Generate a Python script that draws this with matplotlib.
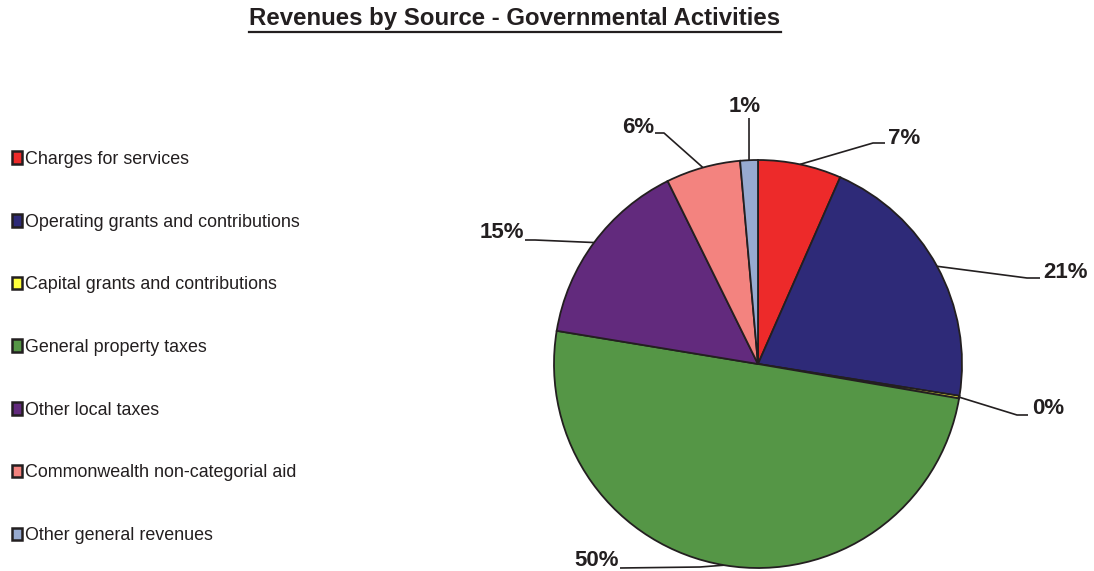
import matplotlib.pyplot as plt
from matplotlib.lines import Line2D
import numpy as np

plt.rcParams['font.family'] = ['Liberation Sans', 'DejaVu Sans']

sources = ['Charges for services',
           'Operating grants and contributions',
           'Capital grants and contributions',
           'General property taxes',
           'Other local taxes',
           'Commonwealth non-categorial aid',
           'Other general revenues']
shares = [6.6, 20.9, 0.2, 49.9, 15.1, 5.9, 1.4]
colors = ['#ED2A2A', '#2E2A78', '#FFFF3C', '#559646', '#622A7D', '#F3837F', '#97AAD0']

W, H = 1094, 571
cx, cy, r = 758, 364, 204   # pie centre and radius in pixels

fig = plt.figure(figsize=(W / 100, H / 100), dpi=100)
ax = fig.add_axes([0, 0, 1, 1])


def px(x, y):
    # pixel position -> data units of the pie axes
    return ((x - cx) / r, (cy - y) / r)


wedges, _ = ax.pie(shares, colors=colors, startangle=90, counterclock=False,
                   radius=1, wedgeprops=dict(edgecolor='#231f20', linewidth=1.3))
ax.set_xlim(-cx / r, (W - cx) / r)
ax.set_ylim(-(H - cy) / r, cy / r)
ax.axis('off')

# leader lines: elbow, end of line, text anchor, alignment
leaders = [((873, 143), (885, 143), (888, 138), 'left'),
           ((1027, 278), (1040, 278), (1043, 272), 'left'),
           ((1017, 415), (1028, 415), (1032, 408), 'left'),
           ((700, 567), (620, 568), (619, 561), 'right'),
           ((535, 240), (525, 240), (524, 233), 'right'),
           ((664, 133), (655, 133), (654, 127), 'right'),
           ((749, 118), (749, 118), (745, 106), 'center')]

for w, s, (elbow, end, tpos, ha) in zip(wedges, shares, leaders):
    mid = np.deg2rad((w.theta1 + w.theta2) / 2)
    ex, ey = np.cos(mid), np.sin(mid)
    bx, by = px(*elbow)
    qx, qy = px(*end)
    ax.plot([ex, bx, qx], [ey, by, qy], color='#231f20', lw=1.2,
            solid_capstyle='butt', zorder=0)
    tx, ty = px(*tpos)
    ax.text(tx, ty, f'{round(s):.0f}%', ha=ha, va='center',
            fontsize=16, fontweight='bold', color='#231f20')

leg = ax.legend(wedges, sources, loc='center left',
                bbox_to_anchor=(12 / W, 1 - 347.5 / H), bbox_transform=fig.transFigure,
                frameon=False, fontsize=12.9, labelspacing=2.55, borderpad=0,
                borderaxespad=0, handlelength=0.55, handleheight=0.7,
                handletextpad=0.2, labelcolor='#231f20')
for h in leg.legend_handles:
    h.set_linewidth(1.8)

title = fig.text(515 / W, 1 - 18 / H, 'Revenues by Source - Governmental Activities',
                 ha='center', va='center', fontsize=17.3, fontweight='bold',
                 color='#231f20')
fig.canvas.draw()
bb = title.get_window_extent().transformed(fig.transFigure.inverted())
fig.add_artist(Line2D([bb.x0, bb.x1], [1 - 32 / H, 1 - 32 / H],
                      transform=fig.transFigure, color='#231f20', lw=1.6))

fig.savefig('out.png', dpi=100)
